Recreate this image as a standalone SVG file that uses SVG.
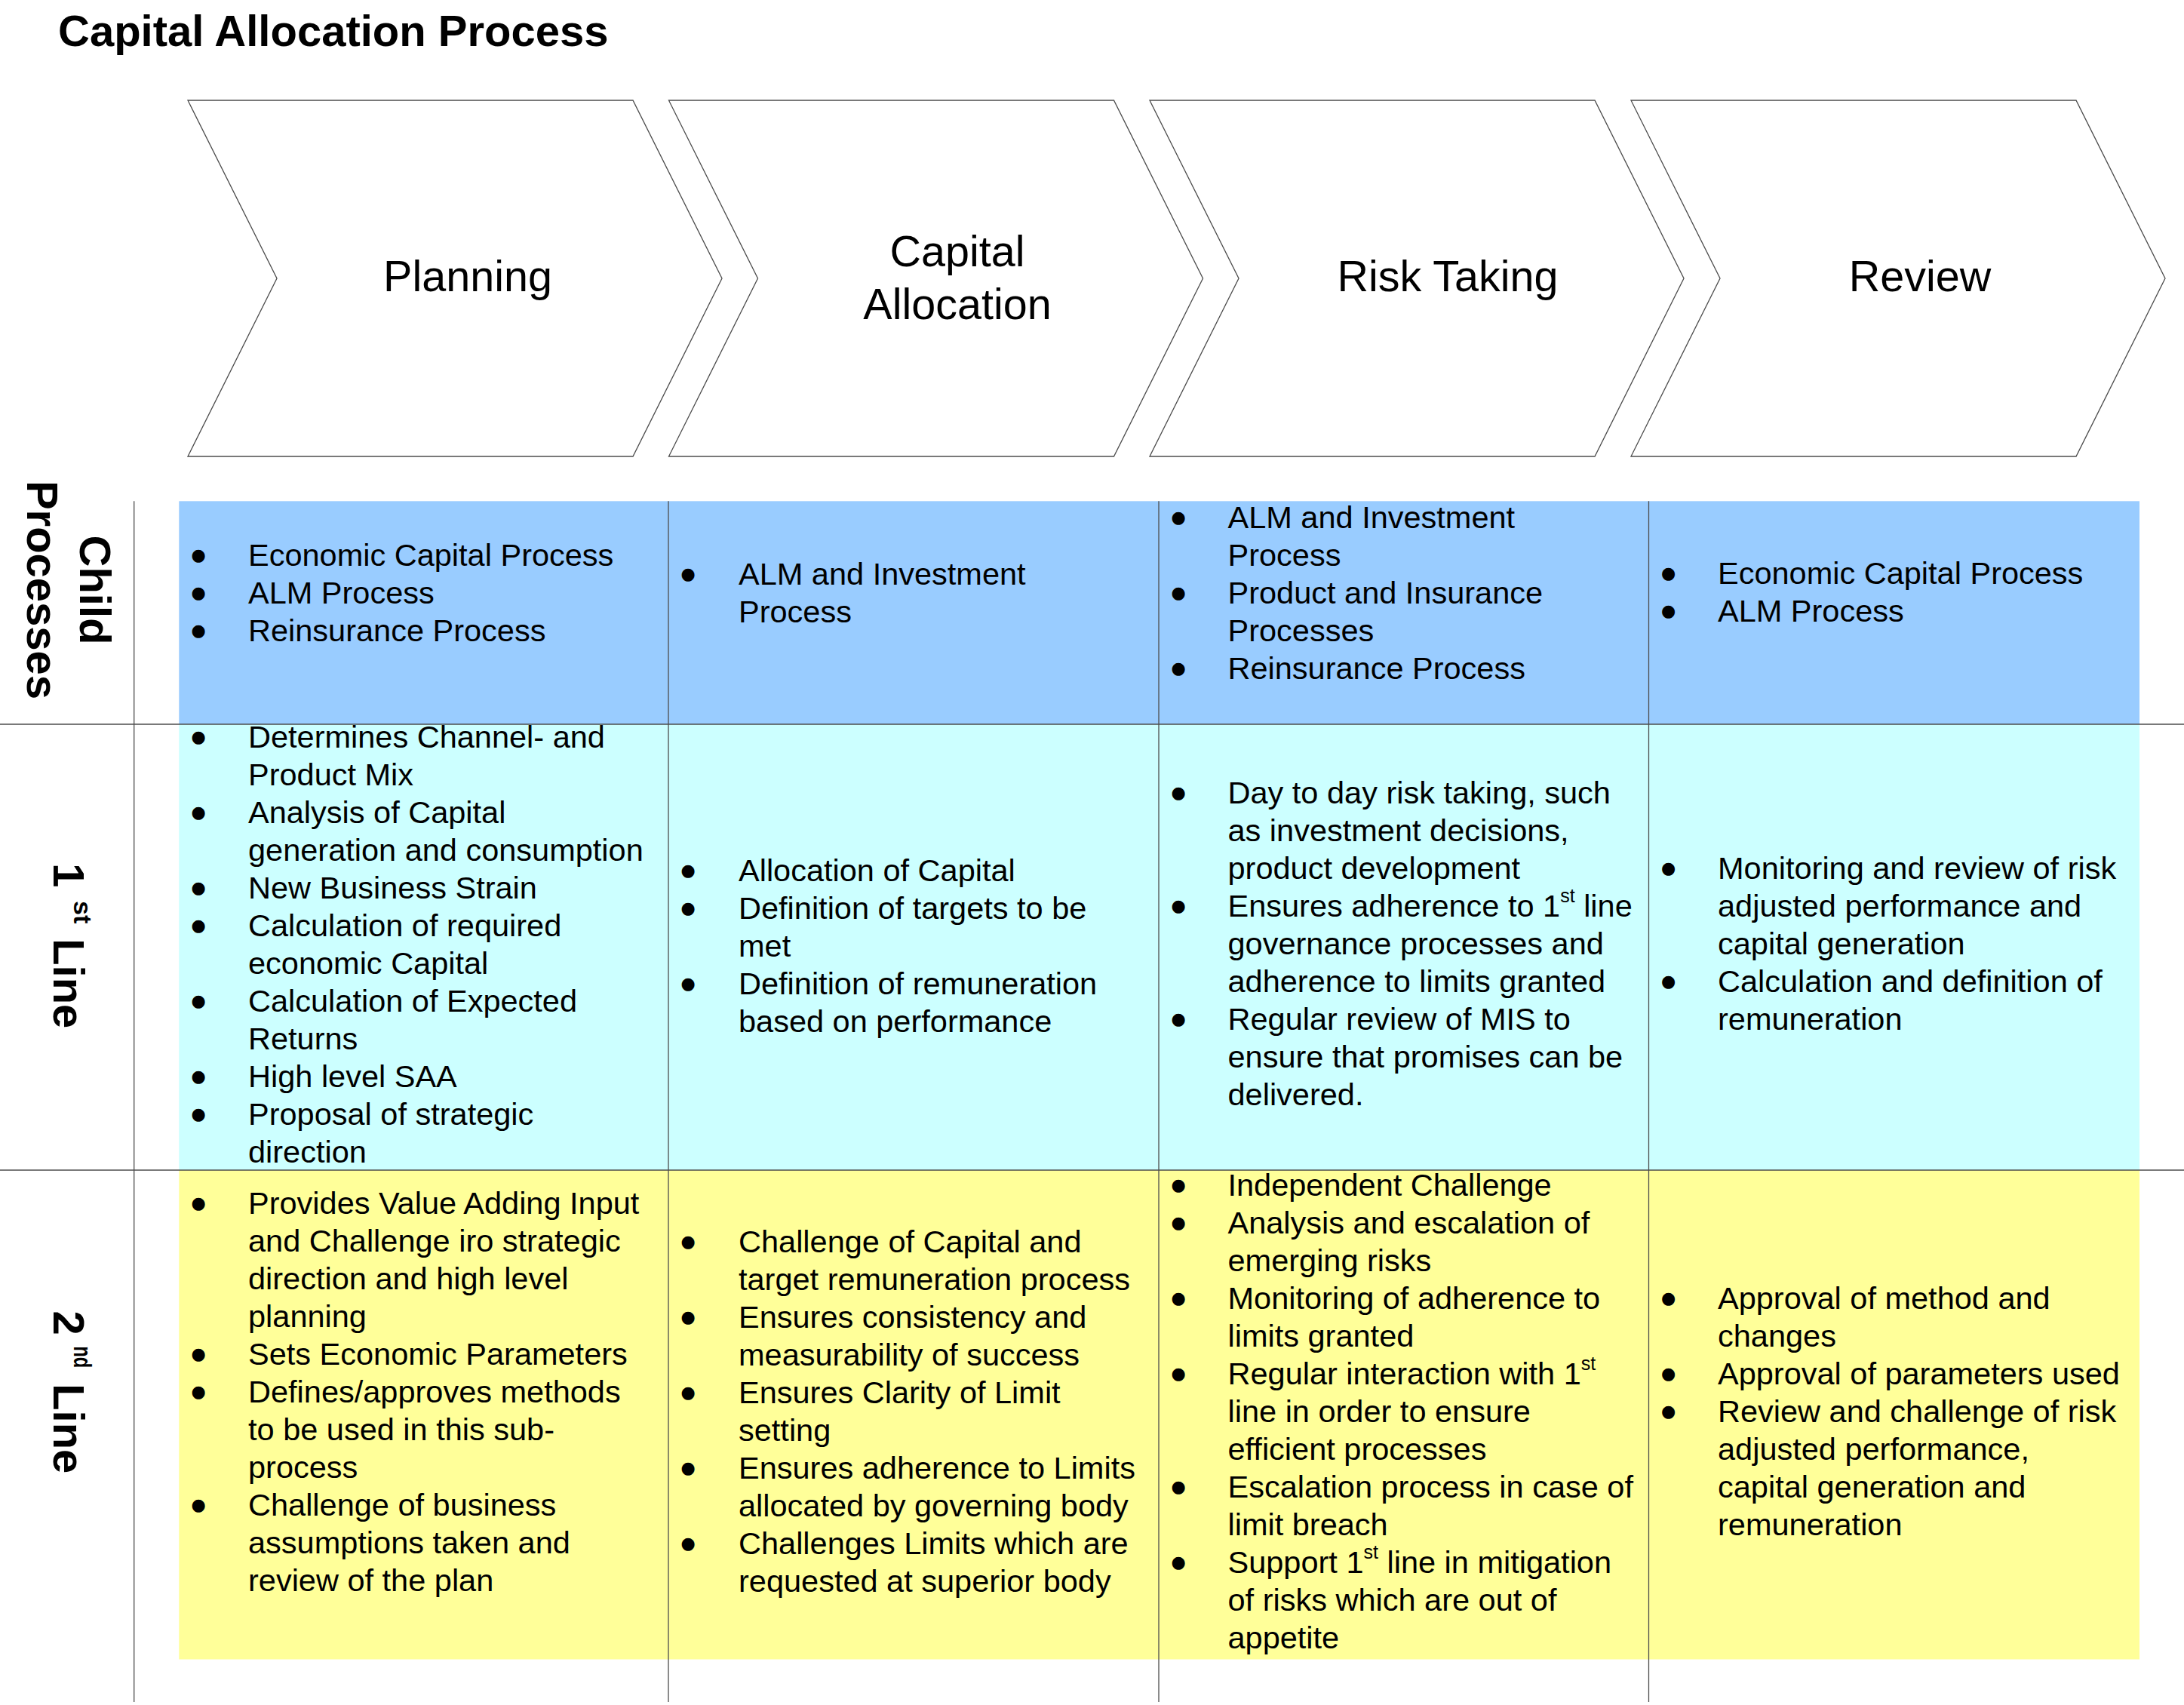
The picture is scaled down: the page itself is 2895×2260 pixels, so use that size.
<svg xmlns="http://www.w3.org/2000/svg" width="2895" height="2260" viewBox="0 0 2895 2260">
<style>
text{font-family:"Liberation Sans",Arial,sans-serif;fill:#000}
.title{font-size:58px;font-weight:bold}
.chev{fill:#fff;stroke:#4d4d4d;stroke-width:1.3}
.clab{font-size:57.5px;text-anchor:middle}
.rlab{font-size:58px;font-weight:bold}
.sup2{font-size:34px}
.body{font-size:41.5px}
.sup{font-size:25px}
.bul{font-size:42px;text-anchor:middle;stroke:#000;stroke-width:5.5;stroke-linejoin:round}
.grid line{stroke:#4d4d4d;stroke-width:1.3}
</style>
<rect width="2895" height="2260" fill="#fff"/>
<text class="title" x="77" y="61">Capital Allocation Process</text>

<g id="chevrons">
<g id="stage-planning">
<polygon class="chev" points="249,133 839,133 957,369 839,605 249,605 367,369"/>
<text class="clab" x="620" y="386">Planning</text>
</g>
<g id="stage-capital-allocation">
<polygon class="chev" points="886.5,133 1476.5,133 1594.5,369 1476.5,605 886.5,605 1004.5,369"/>
<text class="clab" x="1269"><tspan x="1269" y="353">Capital</tspan><tspan x="1269" y="423">Allocation</tspan></text>
</g>
<g id="stage-risk-taking">
<polygon class="chev" points="1524,133 2114,133 2232,369 2114,605 1524,605 1642,369"/>
<text class="clab" x="1919" y="386">Risk Taking</text>
</g>
<g id="stage-review">
<polygon class="chev" points="2162,133 2752,133 2870,369 2752,605 2162,605 2280,369"/>
<text class="clab" x="2545" y="386">Review</text>
</g>
</g>

<g id="bands">
<rect x="237.3" y="664.3" width="2598.7" height="295.7" fill="#99CCFF"/>
<rect x="237.3" y="960" width="2598.7" height="591" fill="#CCFFFF"/>
<rect x="237.3" y="1551" width="2598.7" height="648.5" fill="#FFFF99"/>
</g>

<g id="grid" class="grid">
<line x1="177.7" y1="664.3" x2="177.7" y2="2256"/>
<line x1="886" y1="664.3" x2="886" y2="2256"/>
<line x1="1536" y1="664.3" x2="1536" y2="2256"/>
<line x1="2185.5" y1="664.3" x2="2185.5" y2="2256"/>
<line x1="0" y1="960" x2="2895" y2="960"/>
<line x1="0" y1="1551" x2="2895" y2="1551"/>
</g>

<g id="row-labels">
<g id="label-child">
<text class="rlab" transform="translate(106,0) rotate(90)" x="782" y="0" text-anchor="middle">Child</text>
<text class="rlab" transform="translate(36,0) rotate(90)" x="782" y="0" text-anchor="middle">Processes</text>
</g>
<g id="label-1st">
<text class="rlab" transform="translate(70.7,0) rotate(90)"><tspan x="1144" y="0">1</tspan><tspan class="sup2" x="1194" y="-27.6">st</tspan><tspan x="1228" y="0"> Line</tspan></text>
</g>
<g id="label-2nd">
<text class="rlab" transform="translate(70.7,0) rotate(90)"><tspan x="1737.6" y="0">2</tspan><tspan class="sup2" x="1784.3" y="-27.6" textLength="29" lengthAdjust="spacingAndGlyphs">nd</tspan><tspan x="1818" y="0"> Line</tspan></text>
</g>
</g>

<g id="cells">
<g id="cell-child-planning">
<text class="body"><tspan class="bul" x="263" y="751">•</tspan><tspan x="329" y="750">Economic Capital Process</tspan><tspan class="bul" x="263" y="801">•</tspan><tspan x="329" y="800">ALM Process</tspan><tspan class="bul" x="263" y="851">•</tspan><tspan x="329" y="850">Reinsurance Process</tspan></text>
</g>
<g id="cell-child-allocation">
<text class="body"><tspan class="bul" x="912" y="776">•</tspan><tspan x="979" y="775">ALM and Investment</tspan><tspan x="979" y="825">Process</tspan></text>
</g>
<g id="cell-child-risk">
<text class="body"><tspan class="bul" x="1562" y="701">•</tspan><tspan x="1627.5" y="700">ALM and Investment</tspan><tspan x="1627.5" y="750">Process</tspan><tspan class="bul" x="1562" y="801">•</tspan><tspan x="1627.5" y="800">Product and Insurance</tspan><tspan x="1627.5" y="850">Processes</tspan><tspan class="bul" x="1562" y="901">•</tspan><tspan x="1627.5" y="900">Reinsurance Process</tspan></text>
</g>
<g id="cell-child-review">
<text class="body"><tspan class="bul" x="2211.5" y="775">•</tspan><tspan x="2277" y="774">Economic Capital Process</tspan><tspan class="bul" x="2211.5" y="825">•</tspan><tspan x="2277" y="824">ALM Process</tspan></text>
</g>

<g id="cell-1st-planning">
<text class="body"><tspan class="bul" x="263" y="992">•</tspan><tspan x="329" y="991">Determines Channel- and</tspan><tspan x="329" y="1041">Product Mix</tspan><tspan class="bul" x="263" y="1092">•</tspan><tspan x="329" y="1091">Analysis of Capital</tspan><tspan x="329" y="1141">generation and consumption</tspan><tspan class="bul" x="263" y="1192">•</tspan><tspan x="329" y="1191">New Business Strain</tspan><tspan class="bul" x="263" y="1242">•</tspan><tspan x="329" y="1241">Calculation of required</tspan><tspan x="329" y="1291">economic Capital</tspan><tspan class="bul" x="263" y="1342">•</tspan><tspan x="329" y="1341">Calculation of Expected</tspan><tspan x="329" y="1391">Returns</tspan><tspan class="bul" x="263" y="1442">•</tspan><tspan x="329" y="1441">High level SAA</tspan><tspan class="bul" x="263" y="1492">•</tspan><tspan x="329" y="1491">Proposal of strategic</tspan><tspan x="329" y="1541">direction</tspan></text>
</g>
<g id="cell-1st-allocation">
<text class="body"><tspan class="bul" x="912" y="1169">•</tspan><tspan x="979" y="1168">Allocation of Capital</tspan><tspan class="bul" x="912" y="1219">•</tspan><tspan x="979" y="1218">Definition of targets to be</tspan><tspan x="979" y="1268">met</tspan><tspan class="bul" x="912" y="1319">•</tspan><tspan x="979" y="1318">Definition of remuneration</tspan><tspan x="979" y="1368">based on performance</tspan></text>
</g>
<g id="cell-1st-risk">
<text class="body"><tspan class="bul" x="1562" y="1066">•</tspan><tspan x="1627.5" y="1065">Day to day risk taking, such</tspan><tspan x="1627.5" y="1115">as investment decisions,</tspan><tspan x="1627.5" y="1165">product development</tspan><tspan class="bul" x="1562" y="1216">•</tspan><tspan x="1627.5" y="1215">Ensures adherence to 1</tspan><tspan class="sup" dy="-19">st</tspan><tspan dy="19"> line</tspan><tspan x="1627.5" y="1265">governance processes and</tspan><tspan x="1627.5" y="1315">adherence to limits granted</tspan><tspan class="bul" x="1562" y="1366">•</tspan><tspan x="1627.5" y="1365">Regular review of MIS to</tspan><tspan x="1627.5" y="1415">ensure that promises can be</tspan><tspan x="1627.5" y="1465">delivered.</tspan></text>
</g>
<g id="cell-1st-review">
<text class="body"><tspan class="bul" x="2211.5" y="1166">•</tspan><tspan x="2277" y="1165">Monitoring and review of risk</tspan><tspan x="2277" y="1215">adjusted performance and</tspan><tspan x="2277" y="1265">capital generation</tspan><tspan class="bul" x="2211.5" y="1316">•</tspan><tspan x="2277" y="1315">Calculation and definition of</tspan><tspan x="2277" y="1365">remuneration</tspan></text>
</g>

<g id="cell-2nd-planning">
<text class="body"><tspan class="bul" x="263" y="1610">•</tspan><tspan x="329" y="1609">Provides Value Adding Input</tspan><tspan x="329" y="1659">and Challenge iro strategic</tspan><tspan x="329" y="1709">direction and high level</tspan><tspan x="329" y="1759">planning</tspan><tspan class="bul" x="263" y="1810">•</tspan><tspan x="329" y="1809">Sets Economic Parameters</tspan><tspan class="bul" x="263" y="1860">•</tspan><tspan x="329" y="1859">Defines/approves methods</tspan><tspan x="329" y="1909">to be used in this sub-</tspan><tspan x="329" y="1959">process</tspan><tspan class="bul" x="263" y="2010">•</tspan><tspan x="329" y="2009">Challenge of business</tspan><tspan x="329" y="2059">assumptions taken and</tspan><tspan x="329" y="2109">review of the plan</tspan></text>
</g>
<g id="cell-2nd-allocation">
<text class="body"><tspan class="bul" x="912" y="1661">•</tspan><tspan x="979" y="1660">Challenge of Capital and</tspan><tspan x="979" y="1710">target remuneration process</tspan><tspan class="bul" x="912" y="1761">•</tspan><tspan x="979" y="1760">Ensures consistency and</tspan><tspan x="979" y="1810">measurability of success</tspan><tspan class="bul" x="912" y="1861">•</tspan><tspan x="979" y="1860">Ensures Clarity of Limit</tspan><tspan x="979" y="1910">setting</tspan><tspan class="bul" x="912" y="1961">•</tspan><tspan x="979" y="1960">Ensures adherence to Limits</tspan><tspan x="979" y="2010">allocated by governing body</tspan><tspan class="bul" x="912" y="2061">•</tspan><tspan x="979" y="2060">Challenges Limits which are</tspan><tspan x="979" y="2110">requested at superior body</tspan></text>
</g>
<g id="cell-2nd-risk">
<text class="body"><tspan class="bul" x="1562" y="1586">•</tspan><tspan x="1627.5" y="1585">Independent Challenge</tspan><tspan class="bul" x="1562" y="1636">•</tspan><tspan x="1627.5" y="1635">Analysis and escalation of</tspan><tspan x="1627.5" y="1685">emerging risks</tspan><tspan class="bul" x="1562" y="1736">•</tspan><tspan x="1627.5" y="1735">Monitoring of adherence to</tspan><tspan x="1627.5" y="1785">limits granted</tspan><tspan class="bul" x="1562" y="1836">•</tspan><tspan x="1627.5" y="1835">Regular interaction with 1</tspan><tspan class="sup" dy="-19">st</tspan><tspan x="1627.5" y="1885">line in order to ensure</tspan><tspan x="1627.5" y="1935">efficient processes</tspan><tspan class="bul" x="1562" y="1986">•</tspan><tspan x="1627.5" y="1985">Escalation process in case of</tspan><tspan x="1627.5" y="2035">limit breach</tspan><tspan class="bul" x="1562" y="2086">•</tspan><tspan x="1627.5" y="2085">Support 1</tspan><tspan class="sup" dy="-19">st</tspan><tspan dy="19"> line in mitigation</tspan><tspan x="1627.5" y="2135">of risks which are out of</tspan><tspan x="1627.5" y="2185">appetite</tspan></text>
</g>
<g id="cell-2nd-review">
<text class="body"><tspan class="bul" x="2211.5" y="1736">•</tspan><tspan x="2277" y="1735">Approval of method and</tspan><tspan x="2277" y="1785">changes</tspan><tspan class="bul" x="2211.5" y="1836">•</tspan><tspan x="2277" y="1835">Approval of parameters used</tspan><tspan class="bul" x="2211.5" y="1886">•</tspan><tspan x="2277" y="1885">Review and challenge of risk</tspan><tspan x="2277" y="1935">adjusted performance,</tspan><tspan x="2277" y="1985">capital generation and</tspan><tspan x="2277" y="2035">remuneration</tspan></text>
</g>
</g>
</svg>
